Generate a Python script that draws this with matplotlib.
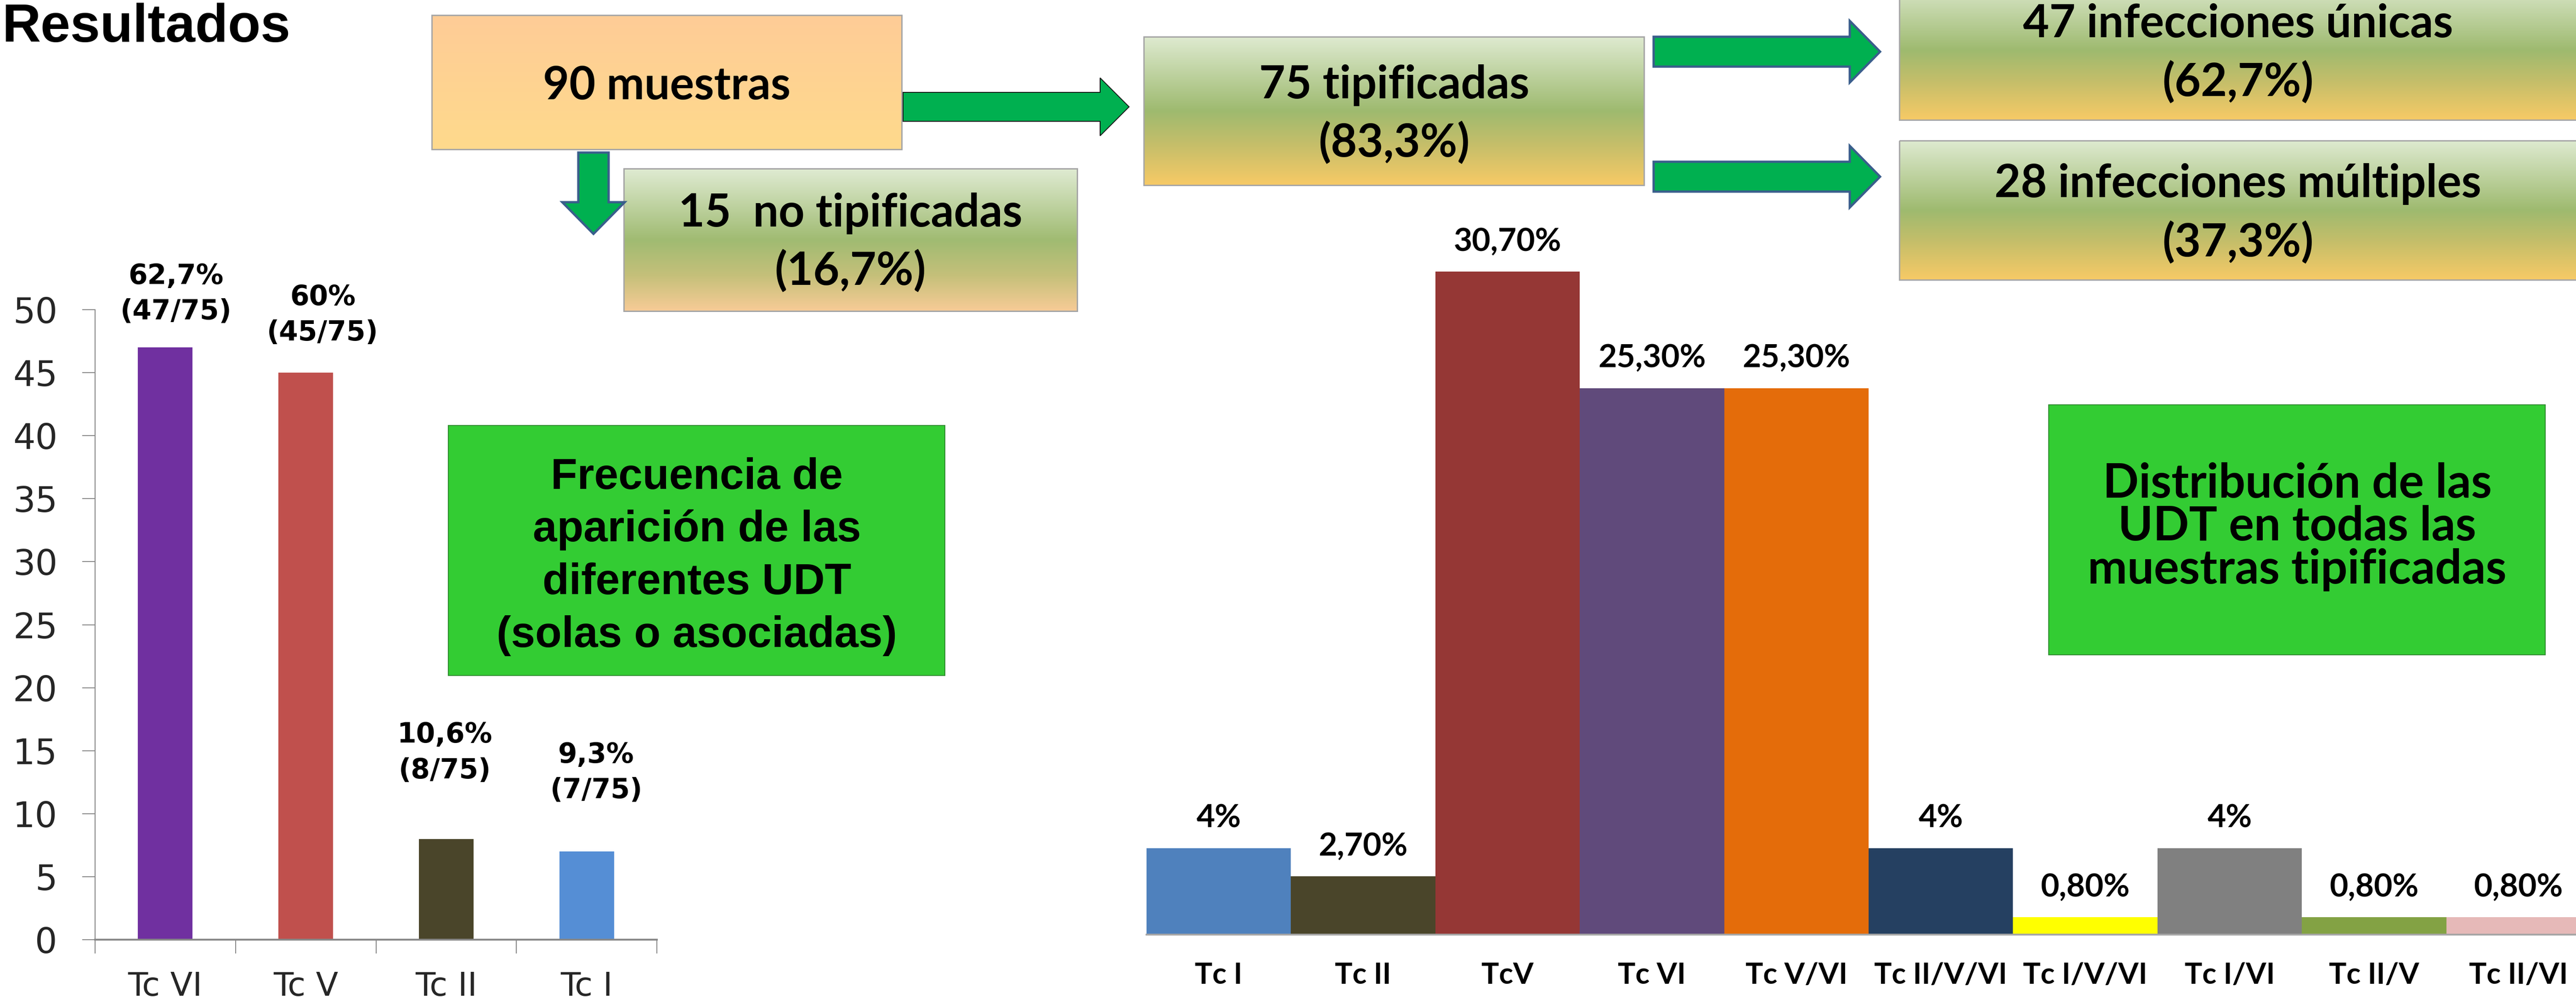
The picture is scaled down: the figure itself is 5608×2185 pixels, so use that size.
import numpy as np
import matplotlib
matplotlib.use("Agg")
import matplotlib.pyplot as plt
from matplotlib.patches import Rectangle, Polygon
from matplotlib.colors import to_rgb

# ---------------- data ----------------
left_categories = ["Tc VI", "Tc V", "Tc II", "Tc I"]
left_values = [47, 45, 8, 7]
left_labels = ["62,7%\n(47/75)", "60%\n(45/75)", "10,6%\n(8/75)", "9,3%\n(7/75)"]
left_colors = ["#7030A0", "#C0504D", "#4A452A", "#558ED5"]
left_yticks = [0, 5, 10, 15, 20, 25, 30, 35, 40, 45, 50]

right_categories = ["Tc I", "Tc II", "TcV", "Tc VI", "Tc V/VI", "Tc II/V/VI",
                    "Tc I/V/VI", "Tc I/VI", "Tc II/V", "Tc II/VI"]
right_values = [4, 2.7, 30.7, 25.3, 25.3, 4, 0.8, 4, 0.8, 0.8]
right_labels = ["4%", "2,70%", "30,70%", "25,30%", "25,30%", "4%",
                "0,80%", "4%", "0,80%", "0,80%"]
right_colors = ["#4F81BD", "#4A452A", "#953735", "#604A7B", "#E46C0A",
                "#254061", "#FFFF00", "#808080", "#83A244", "#E6B9B8"]

W, H = 5608, 2185
DPI = 100
PT = 72.0 / DPI  # points per pixel

fig = plt.figure(figsize=(W / DPI, H / DPI), dpi=DPI)
fig.patch.set_facecolor("white")

def fx(px):
    return px / W

def fy(py):
    return 1 - py / H

CAL = "Lato"
ARIAL = "Liberation Sans"
VERD = "DejaVu Sans"

# ---------------- left chart ----------------
axL_left, axL_right, axL_top, axL_bottom = 207, 1430, 674, 2045
axL = fig.add_axes([fx(axL_left), fy(axL_bottom), fx(axL_right - axL_left),
                    (axL_bottom - axL_top) / H])
xl = np.arange(len(left_categories))
axL.bar(xl, left_values, width=0.39, color=left_colors, zorder=2)
axL.set_xlim(-0.5, len(left_categories) - 0.5)
axL.set_ylim(0, 50)
axL.set_yticks(left_yticks)
axL.set_yticklabels([str(v) for v in left_yticks], fontsize=55, family=VERD,
                    color="#262626")
axL.set_xticks(xl)
axL.set_xticklabels(left_categories, fontsize=51, family=VERD, color="#262626")
axL.set_xticks(np.arange(len(left_categories) + 1) - 0.5, minor=True)
axL.tick_params(axis="y", direction="out", length=28 * PT, width=2 * PT,
                color="#878787", pad=54 * PT)
axL.tick_params(axis="x", which="major", length=0, pad=68 * PT)
axL.tick_params(axis="x", which="minor", direction="out", length=30 * PT,
                width=2 * PT, color="#878787")
for s in ["top", "right"]:
    axL.spines[s].set_visible(False)
axL.spines["left"].set_color("#878787")
axL.spines["left"].set_linewidth(2 * PT)
axL.spines["bottom"].set_color("#878787")
axL.spines["bottom"].set_linewidth(4 * PT)
axL.set_facecolor("none")

left_offsets_px = [(23, 116), (37, 125), (-3, 187), (21, 171)]
for i, (v, lab) in enumerate(zip(left_values, left_labels)):
    dx, dy = left_offsets_px[i]
    axL.annotate(lab, (i, v), xytext=(dx * PT, dy * PT), textcoords="offset points",
                 ha="center", va="center", fontsize=43, fontweight="bold",
                 family=VERD, linespacing=1.4, color="black")

# ---------------- right chart ----------------
axR_left, axR_bottom = 2496, 2034
bar_px = 314.4
ypx_per_unit = 47.0
ymax = 32
axR = fig.add_axes([fx(axR_left), fy(axR_bottom), fx(bar_px * len(right_values)),
                    ymax * ypx_per_unit / H])
xr = np.arange(len(right_categories))
axR.bar(xr, right_values, width=1.0, color=right_colors, zorder=2)
axR.set_xlim(-0.5, len(right_categories) - 0.5)
axR.set_ylim(0, ymax)
axR.set_yticks([])
axR.set_xticks(xr)
axR.set_xticklabels(right_categories, fontsize=46, family=CAL, fontweight="bold",
                    color="black")
axR.tick_params(axis="x", length=0, pad=60 * PT)
for s in ["top", "right", "left"]:
    axR.spines[s].set_visible(False)
axR.spines["bottom"].set_color("#A6A6A6")
axR.spines["bottom"].set_linewidth(4 * PT)
axR.spines["bottom"].set_zorder(3)
axR.set_facecolor("none")
for i, (v, lab) in enumerate(zip(right_values, right_labels)):
    axR.annotate(lab, (i, v), xytext=(0, 65 * PT), textcoords="offset points",
                 ha="center", va="center", fontsize=50, fontweight="bold",
                 family=CAL, color="black")

# ---------------- overlay (diagram) ----------------
ov = fig.add_axes([0, 0, 1, 1], zorder=5)
ov.set_facecolor("none")
ov.set_autoscale_on(False)
ov.set_xlim(0, W)
ov.set_ylim(H, 0)
ov.axis("off")


def gradient(stops, n=256):
    t = np.linspace(0, 1, n)
    pos = [p for p, _ in stops]
    cols = np.array([to_rgb(c) for _, c in stops])
    img = np.stack([np.interp(t, pos, cols[:, k]) for k in range(3)], axis=1)
    return img[:, None, :]


def grad_box(x0, y0, x1, y1, stops, edge="#A6A6A6"):
    ov.imshow(gradient(stops), extent=(x0, x1, y1, y0), aspect="auto",
              interpolation="bilinear", zorder=2)
    ov.add_patch(Rectangle((x0, y0), x1 - x0, y1 - y0, fill=False, ec=edge,
                           lw=3 * PT, zorder=3))


peach = [(0, "#FECC97"), (1, "#FFDA8C")]
green_peach = [(0, "#DFEBD2"), (0.5, "#A0BB72"), (0.75, "#C5C07A"), (1, "#F7CB96")]
green_orange = [(0, "#DEEAD0"), (0.5, "#9EBA6F"), (0.72, "#C4BE6A"), (1, "#F7CA66")]

grad_box(940, 33, 1963, 325, peach)
grad_box(1358, 367, 2345, 677, green_peach)
grad_box(2490, 80, 3579, 403, green_orange)
grad_box(4135, -42, 5612, 261, green_orange)
grad_box(4135, 306, 5612, 609, green_orange)


def right_arrow(x0, xh, xt, yc, sh, hh, ec, lw):
    verts = [(x0, yc - sh), (xh, yc - sh), (xh, yc - hh), (xt, yc),
             (xh, yc + hh), (xh, yc + sh), (x0, yc + sh)]
    ov.add_patch(Polygon(verts, closed=True, fc="#00B050", ec=ec, lw=lw * PT,
                         joinstyle="miter", zorder=4))


right_arrow(1966, 2395, 2458, 232.5, 31.5, 63, "#1A1A1A", 2)
right_arrow(3600, 4027, 4093, 112.5, 32.5, 67, "#3A5E8C", 5)
right_arrow(3600, 4027, 4093, 384.5, 32.5, 67, "#3A5E8C", 5)

# down arrow
xc, sh, hh = 1292, 33, 68
verts = [(xc - sh, 332), (xc + sh, 332), (xc + sh, 440), (xc + hh, 440),
         (xc, 509), (xc - hh, 440), (xc - sh, 440)]
ov.add_patch(Polygon(verts, closed=True, fc="#00B050", ec="#3A5E8C", lw=5 * PT,
                     joinstyle="miter", zorder=4))


def box_text(x, y, s, size=71, fam=CAL):
    ov.text(x, y, s, ha="center", va="baseline", fontsize=size, fontweight="bold",
            family=fam, color="black", zorder=6)


box_text(1451, 216, "90 muestras")
box_text(1851, 493, "15  no tipificadas")
box_text(1851, 620, "(16,7%)")
box_text(3035, 214, "75 tipificadas")
box_text(3035, 341, "(83,3%)")
box_text(4872, 81, "47 infecciones únicas")
box_text(4872, 209, "(62,7%)")
box_text(4872, 429, "28 infecciones múltiples")
box_text(4872, 558, "(37,3%)")

# title
ov.text(4, 6, "Resultados", ha="left", va="top", fontsize=84,
        fontweight="bold", family=ARIAL, color="black", zorder=6)

# green label boxes
ov.add_patch(Rectangle((976, 926), 2057 - 976, 1470 - 926, fc="#33CC33",
                       ec="#2E8B2E", lw=2 * PT, zorder=4))
for y, s in zip([1064, 1178, 1293, 1408],
                ["Frecuencia de", "aparición de las", "diferentes UDT",
                 "(solas o asociadas)"]):
    box_text(1517, y, s, size=68, fam=ARIAL)

ov.add_patch(Rectangle((4460, 881), 5541 - 4460, 1425 - 881, fc="#33CC33",
                       ec="#2E8B2E", lw=2 * PT, zorder=4))
for y, s in zip([1083, 1176, 1270],
                ["Distribución de las", "UDT en todas las", "muestras tipificadas"]):
    box_text(5001, y, s, size=74)

fig.savefig("out.png", dpi=DPI, facecolor="white")
